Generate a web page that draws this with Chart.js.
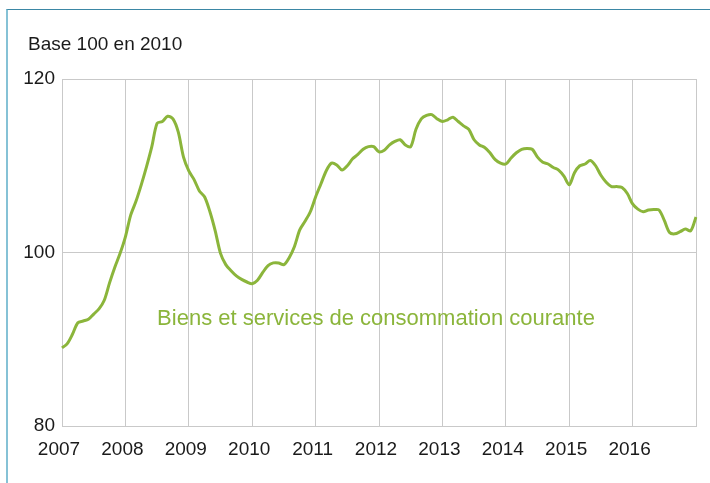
<!DOCTYPE html>
<html lang="fr">
<head>
<meta charset="utf-8">
<script src="https://cdn.jsdelivr.net/npm/chart.js@4/dist/chart.umd.min.js"></script>
<style>
  html, body { margin: 0; padding: 0; background: #fff; }
  #wrap { position: relative; width: 710px; height: 483px; overflow: hidden; }
  #cadre {
    position: absolute; left: 6px; top: 9px; right: 0; bottom: 0;
    border-top: 1px solid #3b87a5; border-left: 2px solid #86c2d6;
  }
  #graphique { position: absolute; left: 0; top: 0; }
</style>
</head>
<body>
<div id="wrap">
  <div id="cadre"></div>
  <canvas id="graphique" width="710" height="483"></canvas>
</div>
<script>
// Années affichées sur l'axe (la dernière ne sert que de borne)
const annees = [2007, 2008, 2009, 2010, 2011, 2012, 2013, 2014, 2015, 2016, 2017];
const titreAxe = 'Base 100 en 2010';
const libelleSerie = 'Biens et services de consommation courante';

// Indice mensuel, de janvier 2007 à janvier 2017
const valeurs = [
    // 2007
    89.0, 89.5, 90.6, 91.9, 92.1, 92.3, 92.9, 93.5, 94.5, 96.5, 98.3, 99.9,
    // 2008
    101.8, 104.3, 105.9, 107.8, 109.9, 112.2, 114.9, 115.1, 115.7, 115.4, 113.9, 111.0,
    // 2009
    109.4, 108.4, 107.1, 106.4, 104.7, 102.5, 99.9, 98.6, 97.9, 97.3, 96.9, 96.6,
    // 2010
    96.4, 96.8, 97.7, 98.5, 98.8, 98.8, 98.6, 99.4, 100.7, 102.6, 103.6, 104.7,
    // 2011
    106.4, 107.9, 109.4, 110.3, 110.1, 109.5, 110.0, 110.8, 111.3, 111.9, 112.2, 112.2,
    // 2012
    111.6, 111.8, 112.4, 112.8, 113.0, 112.4, 112.2, 114.2, 115.4, 115.8, 115.9, 115.4,
    // 2013
    115.1, 115.3, 115.6, 115.1, 114.6, 114.2, 113.0, 112.4, 112.1, 111.5, 110.7, 110.3,
    // 2014
    110.2, 110.9, 111.5, 111.9, 112.0, 111.9, 111.0, 110.4, 110.2, 109.8, 109.5, 108.8,
    // 2015
    107.8, 109.2, 110.0, 110.2, 110.6, 110.0, 108.9, 108.1, 107.6, 107.6, 107.5, 106.8,
    // 2016
    105.6, 105.0, 104.7, 104.9, 104.95, 104.9, 103.7, 102.3, 102.15, 102.4, 102.7, 102.5,
    // janvier 2017
    104.1
];

// Libellés mensuels "AAAA-MM"
const mois = [];
annees.forEach(a => {
    for (let m = 1; m <= 12; m++) {
        if (mois.length < valeurs.length) mois.push(a + '-' + String(m).padStart(2, '0'));
    }
});

const VERT = '#8bb53b';
const GRILLE = '#c9c9c9';
const POLICE = "'Liberation Sans', Arial, sans-serif";

// Texte du titre d'axe et étiquette de la série
const textes = {
    id: 'textes',
    afterDraw(chart) {
        const { ctx, chartArea, scales } = chart;
        ctx.save();
        ctx.textBaseline = 'middle';
        ctx.textAlign = 'left';
        ctx.fillStyle = '#1a1a1a';
        ctx.font = '19px ' + POLICE;
        ctx.fillText(titreAxe, chartArea.left - 34, chartArea.top - 34);

        ctx.fillStyle = VERT;
        ctx.font = '22px ' + POLICE;
        ctx.fillText(libelleSerie, scales.x.getPixelForValue(18), scales.y.getPixelForValue(92.3));
        ctx.restore();
    }
};

new Chart(document.getElementById('graphique'), {
    type: 'line',
    data: {
        labels: mois,
        datasets: [{
            label: libelleSerie,
            data: valeurs,
            borderColor: VERT,
            borderWidth: 3,
            pointRadius: 0,
            tension: 0.3,
            fill: false
        }]
    },
    options: {
        responsive: false,
        animation: false,
        layout: { padding: { left: 8, right: 14, top: 79, bottom: 0 } },
        plugins: {
            legend: { display: false },
            tooltip: { enabled: false }
        },
        scales: {
            x: {
                type: 'category',
                offset: false,
                afterFit: s => { s.height = 57; },
                grid: {
                    drawTicks: false,
                    color: ctx => (ctx.index % 12 === 0 ? GRILLE : 'rgba(0,0,0,0)'),
                    lineWidth: 1
                },
                border: { display: true, color: GRILLE },
                ticks: {
                    autoSkip: false,
                    maxRotation: 0,
                    minRotation: 0,
                    padding: 12,
                    labelOffset: -3,
                    color: '#1a1a1a',
                    font: { family: POLICE, size: 19 },
                    callback: function (v) {
                        const [a, m] = this.getLabelForValue(v).split('-');
                        return m === '01' && a !== '2017' ? a : '';
                    }
                }
            },
            y: {
                min: 80,
                max: 120,
                afterFit: s => { s.width = 54; },
                grid: { drawTicks: false, color: GRILLE, lineWidth: 1 },
                border: { display: true, color: GRILLE },
                ticks: {
                    stepSize: 20,
                    padding: 7,
                    color: '#1a1a1a',
                    font: { family: POLICE, size: 19 }
                }
            }
        }
    },
    plugins: [textes]
});
</script>
</body>
</html>
